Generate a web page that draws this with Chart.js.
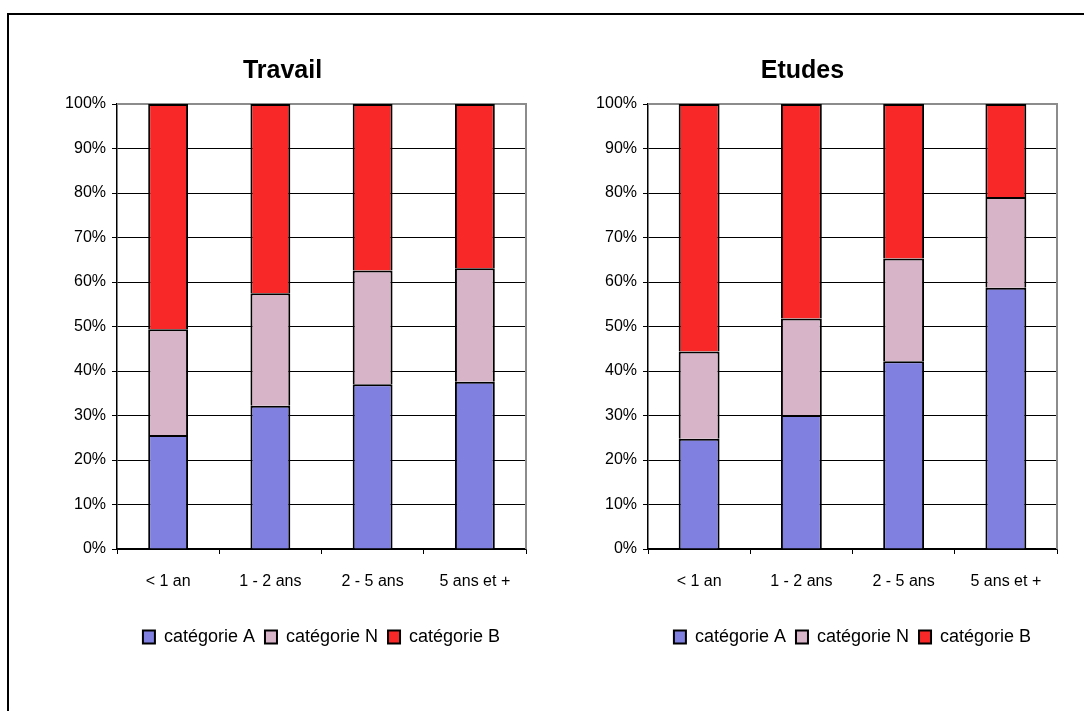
<!DOCTYPE html>
<html>
<head>
<meta charset="utf-8">
<script src="https://cdn.jsdelivr.net/npm/chart.js@4.4.1/dist/chart.umd.min.js"></script>
<style>
    body { margin: 0; background: #fff; overflow: hidden; width: 1084px; height: 711px; position: relative; }
    #frame { position: absolute; left: 7px; top: 13px; width: 1100px; height: 720px; border: 2px solid #000; }
    .box { position: absolute; top: 0; width: 542px; height: 711px; }
</style>
</head>
<body>
<div id="frame"></div>
<div class="box" style="left:0"><canvas id="canvas-travail"></canvas></div>
<div class="box" style="left:542px"><canvas id="canvas-etudes"></canvas></div>

<script>
// data
var categories = ['< 1 an', '1 - 2 ans', '2 - 5 ans', '5 ans et +'];
var seriesNames = ['catégorie A', 'catégorie N', 'catégorie B'];

var travailA = [25.6, 32.2, 37.0, 37.6];
var travailN = [23.8, 25.3, 25.6, 25.5];
var travailB = [50.6, 42.5, 37.4, 36.9];

var etudesA = [24.8, 30.1, 42.2, 58.7];
var etudesN = [19.6, 21.7, 23.1, 20.4];
var etudesB = [55.6, 48.2, 34.7, 20.9];

var colors = ['#8080E0', '#D8B4C8', '#F82828'];
var fontFamily = '"Liberation Sans", Arial, sans-serif';

// gray border on top and right of plot area
var plotBorder = {
    id: 'plotBorder',
    beforeDatasetsDraw: function (chart) {
        var a = chart.chartArea;
        var ctx = chart.ctx;
        ctx.save();
        ctx.strokeStyle = '#8c8c8c';
        ctx.lineWidth = 2;
        ctx.beginPath();
        ctx.moveTo(a.left, a.top);
        ctx.lineTo(a.right, a.top);
        ctx.lineTo(a.right, a.bottom);
        ctx.stroke();
        ctx.restore();
    }
};

function makeDataset(label, data, color, barPct) {
    return {
        label: label,
        data: data,
        backgroundColor: color,
        borderColor: '#000',
        borderWidth: 2,
        borderSkipped: 'start',
        inflateAmount: 0,
        barPercentage: barPct,
        categoryPercentage: 1
    };
}

function makeChart(id, title, a, n, b, pad, yWidth, barPct) {

    var ctx = document.getElementById(id);

    return new Chart(ctx, {
        type: 'bar',
        data: {
            labels: categories,
            datasets: [
                makeDataset(seriesNames[0], a, colors[0], barPct),
                makeDataset(seriesNames[1], n, colors[1], barPct),
                makeDataset(seriesNames[2], b, colors[2], barPct)
            ]
        },
        options: {
            responsive: true,
            maintainAspectRatio: false,
            animation: false,
            layout: {
                padding: { left: pad.left, right: pad.right, top: 40, bottom: 55 }
            },
            plugins: {
                title: {
                    display: true,
                    text: title,
                    color: '#000',
                    font: { family: fontFamily, size: 25, weight: 'bold' },
                    padding: { top: 16, bottom: 18 }
                },
                legend: {
                    position: 'bottom',
                    fullSize: false,
                    labels: {
                        color: '#000',
                        font: { family: fontFamily, size: 18 },
                        boxWidth: 12,
                        boxHeight: 13,
                        padding: 10
                    }
                },
                tooltip: { enabled: false }
            },
            scales: {
                x: {
                    stacked: true,
                    afterFit: function (scale) { scale.height = 69; },
                    grid: {
                        offset: true,
                        drawOnChartArea: false,
                        drawTicks: true,
                        tickLength: 5,
                        color: '#000'
                    },
                    border: { color: '#000', width: 1.5 },
                    ticks: {
                        color: '#000',
                        padding: 18,
                        font: { family: fontFamily, size: 16 }
                    }
                },
                y: {
                    stacked: true,
                    min: 0,
                    max: 100,
                    afterFit: function (scale) { scale.width = yWidth; },
                    grid: {
                        color: function (c) { return c.tick && c.tick.value === 100 ? '#8c8c8c' : '#000'; },
                        tickColor: '#000',
                        tickLength: 5,
                        lineWidth: 1
                    },
                    border: { color: '#000', width: 1.5 },
                    ticks: {
                        stepSize: 10,
                        color: '#000',
                        padding: 6,
                        font: { family: fontFamily, size: 16 },
                        callback: function (v) { return v + '%'; }
                    }
                }
            }
        },
        plugins: [plotBorder]
    });
}

makeChart('canvas-travail', 'Travail', travailA, travailN, travailB, { left: 39, right: 16 }, 78, 0.39);
makeChart('canvas-etudes', 'Etudes', etudesA, etudesN, etudesB, { left: 6, right: 27 }, 100, 0.4);
</script>
</body>
</html>
